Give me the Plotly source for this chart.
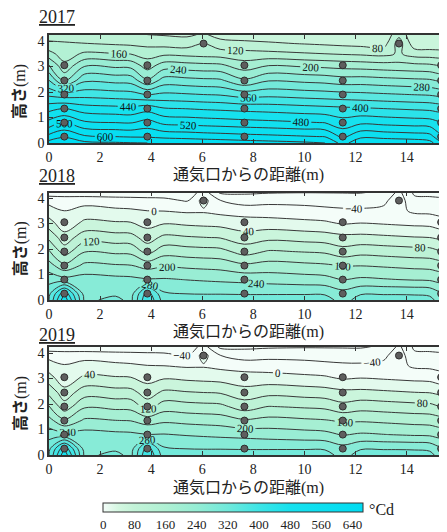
import plotly.graph_objects as go

YEARS = ["2017", "2018", "2019"]

# grid positions (m): distance from vent (x) and height (y)
X_M = [0, 0.6, 1.4, 2.6, 3.2, 3.85, 4.5, 5.4, 6.05, 6.7, 7.65, 8.6, 10.0, 10.8,
       11.5, 12.2, 13.1, 13.7, 14.3, 14.9, 15.35, 15.6]
Y_M = [0, 0.25, 0.8, 1.35, 1.9, 2.45, 3.05, 3.5, 3.9, 4.25]

# degree-day values (°Cd), one row per height
Z_2017 = [
    [658, 675, 650, 645, 642, 640, 635, 630, 627, 624, 619, 614, 607, 600, 545, 590, 592, 589, 586, 575, 530, 545],
    [613, 635, 606, 600, 597, 596, 590, 586, 582, 579, 574, 570, 563, 559, 510, 552, 547, 544, 541, 535, 491, 510],
    [533, 560, 526, 520, 517, 535, 510, 506, 502, 499, 494, 490, 483, 479, 457, 472, 467, 464, 461, 458, 444, 455],
    [466, 480, 459, 453, 450, 464, 443, 439, 435, 432, 427, 423, 416, 412, 408, 405, 400, 397, 394, 391, 384, 388],
    [391, 378, 384, 378, 375, 359, 368, 364, 360, 357, 342, 348, 341, 337, 333, 330, 325, 322, 319, 316, 309, 313],
    [321, 232, 314, 308, 305, 246, 298, 294, 290, 287, 247, 278, 271, 267, 258, 260, 255, 252, 249, 246, 234, 243],
    [241, 170, 234, 228, 225, 180, 218, 214, 210, 207, 177, 198, 191, 187, 183, 180, 175, 172, 169, 166, 156, 163],
    [174, 140, 167, 161, 158, 144, 151, 147, 143, 140, 135, 131, 124, 120, 116, 113, 108, 125, 102, 99, 97, 96],
    [128, 125, 121, 115, 112, 108, 105, 101, 120, 94, 89, 85, 78, 74, 70, 67, 62, 140, 56, 53, 51, 50],
    [100, 97, 93, 87, 84, 80, 77, 73, 85, 66, 61, 57, 52, 50, 48, 47, 46, 110, 45, 45, 44, 44],
]
Z_2018 = [
    [320, 470, 270, 292, 268, 400, 300, 300, 300, 300, 298, 298, 298, 296, 265, 296, 296, 296, 295, 292, 262, 280],
    [310, 430, 262, 272, 262, 380, 285, 279, 278, 278, 277, 277, 277, 276, 255, 277, 277, 277, 276, 272, 248, 262],
    [265, 255, 258, 252, 250, 243, 244, 239, 236, 233, 229, 224, 218, 214, 199, 207, 203, 200, 197, 195, 185, 191],
    [217, 170, 210, 204, 202, 185, 196, 191, 188, 185, 168, 176, 170, 166, 158, 159, 155, 152, 149, 147, 140, 143],
    [165, 100, 158, 152, 150, 105, 144, 139, 136, 133, 104, 124, 118, 114, 96, 107, 103, 100, 97, 95, 83, 91],
    [110, 58, 103, 97, 95, 62, 89, 84, 81, 78, 58, 69, 63, 59, 51, 52, 48, 45, 42, 40, 33, 36],
    [55, 10, 48, 42, 40, 25, 34, 29, 26, 23, 14, 14, 8, 4, -7, -3, -7, -10, -13, -15, -27, -19],
    [15, 0, 13, 7, 5, 0, -1, -6, -5, -12, -16, -21, -27, -31, -34, -34, -32, -30, -48, -50, -52, -54],
    [-12, -15, -14, -20, -22, -25, -28, -44, 15, -39, -60, -52, -52, -55, -58, -60, -48, -20, -70, -72, -74, -75],
    [-70, -72, -72, -72, -72, -72, -70, -68, -25, -90, -88, -86, -84, -84, -84, -84, -75, -32, -88, -90, -92, -93],
]
Z_2019 = [
    [320, 470, 270, 292, 268, 400, 300, 300, 300, 300, 298, 298, 298, 296, 265, 296, 296, 296, 295, 292, 262, 280],
    [310, 430, 262, 272, 262, 380, 285, 279, 278, 278, 277, 277, 277, 276, 255, 277, 277, 277, 276, 272, 248, 262],
    [263, 253, 256, 250, 248, 241, 242, 237, 234, 231, 227, 222, 216, 212, 197, 205, 201, 198, 195, 193, 183, 189],
    [214, 167, 207, 201, 199, 182, 193, 188, 185, 182, 165, 173, 167, 163, 155, 156, 152, 149, 146, 144, 137, 140],
    [162, 97, 155, 149, 147, 102, 141, 136, 133, 130, 101, 121, 115, 111, 93, 104, 100, 97, 94, 92, 80, 88],
    [109, 57, 102, 96, 94, 61, 88, 83, 80, 77, 57, 68, 62, 58, 50, 51, 47, 44, 41, 39, 32, 35],
    [55, 10, 48, 42, 40, 25, 34, 29, 26, 23, 14, 14, 8, 4, -7, -3, -7, -10, -13, -15, -27, -19],
    [17, 2, 15, 9, 6, 1, 0, -5, -4, -11, -15, -20, -26, -30, -33, -33, -31, -29, -47, -49, -51, -53],
    [-12, -15, -14, -20, -22, -25, -28, -44, 15, -39, -60, -52, -52, -55, -58, -60, -48, -20, -70, -72, -74, -75],
    [-70, -72, -72, -72, -72, -72, -70, -68, -25, -90, -88, -86, -84, -84, -84, -84, -75, -32, -88, -90, -92, -93],
]
Z_ALL = [Z_2017, Z_2018, Z_2019]

# sensor locations (m)
SENSOR_X = [0.6, 0.6, 0.6, 0.6, 0.6, 0.6,
            3.85, 3.85, 3.85, 3.85, 3.85, 3.85,
            7.65, 7.65, 7.65, 7.65, 7.65, 7.65,
            11.5, 11.5, 11.5, 11.5, 11.5, 11.5,
            15.35, 15.35, 15.35, 15.35, 15.35, 15.35,
            6.05, 13.7]
SENSOR_Y = [0.25, 0.8, 1.35, 1.9, 2.45, 3.05,
            0.25, 0.8, 1.35, 1.9, 2.45, 3.05,
            0.25, 0.8, 1.35, 1.9, 2.45, 3.05,
            0.25, 0.8, 1.35, 1.9, 2.45, 3.05,
            0.25, 0.8, 1.35, 1.9, 2.45, 3.05,
            3.9, 3.9]

X_TICKS = [0, 2, 4, 6, 8, 10, 12, 14]
Y_TICKS = [0, 1, 2, 3, 4]
CBAR_TICKS = [0, 80, 160, 240, 320, 400, 480, 560, 640]

X_TITLE = "通気口からの距離(m)"
Y_TITLE = "<b>高さ</b>(m)"
UNIT = "°Cd"

CS = [
    [0.0, "#f4fdf9"],
    [0.06, "#d4f7e1"],
    [0.12, "#c3f3d8"],
    [0.24, "#aff0d3"],
    [0.36, "#95edd4"],
    [0.48, "#70e9db"],
    [0.60, "#3de5e6"],
    [0.72, "#16e1ee"],
    [1.0, "#00dcf2"],
]
ZMAX = 668

# the page body adds an 8 px offset, so the figure is laid out 8 px smaller
OFF = 8
W, H = 447 - OFF, 532 - OFF
ML, MR, MT, MB = 49 - OFF, 0, 35 - OFF, 77
PW = W - ML - MR
PH = H - MT - MB
BOT = 455  # page pixel row of paper y=0


def py2paper(py):
    return (BOT - py) / PH


def px2paper(px):
    return (px - 49) / PW


# plot frames in page pixels (top, bottom), title rows
FRAMES = [(35, 143), (192.5, 300), (347, 455)]
YEAR_ROWS = [17.5, 176, 335]
XTITLE_ROWS = [174.5, 332.5, 488]

fig = go.Figure()
serif = "Liberation Serif, Noto Sans CJK JP"

for i, (yr, Z) in enumerate(zip(YEARS, Z_ALL)):
    sfx = "" if i == 0 else str(i + 1)
    fig.add_trace(go.Contour(
        x=X_M, y=Y_M, z=Z,
        xaxis="x" + sfx, yaxis="y" + sfx,
        colorscale=CS, zmin=0, zmax=ZMAX, zauto=False, showscale=False,
        contours=dict(start=-80, end=640, size=40, coloring="fill",
                      showlabels=True,
                      labelfont=dict(family="Liberation Serif", size=11, color="#111")),
        line=dict(color="#383838", width=1, smoothing=1.0),
        hoverinfo="skip",
    ))
    fig.add_trace(go.Scatter(
        x=SENSOR_X, y=SENSOR_Y, mode="markers",
        xaxis="x" + sfx, yaxis="y" + sfx,
        marker=dict(size=7, color="#5e5e5e", line=dict(color="#2e2e2e", width=1)),
        showlegend=False, hoverinfo="skip", cliponaxis=False,
    ))

# colour bar
fig.add_trace(go.Scatter(
    x=[-5], y=[-5], mode="markers", xaxis="x3", yaxis="y3",
    marker=dict(color=[0], cmin=0, cmax=ZMAX, colorscale=CS, showscale=True, size=1,
                colorbar=dict(orientation="h", x=px2paper(233.3), xanchor="center",
                              y=py2paper(503), yanchor="top",
                              len=260, lenmode="pixels", thickness=9,
                              xpad=0, ypad=0,
                              outlinewidth=1, outlinecolor="#333",
                              tickvals=CBAR_TICKS, ticks="", ticklen=0,
                              tickfont=dict(family="Liberation Serif", size=13, color="#222"))),
    showlegend=False, hoverinfo="skip",
))

layout = dict(
    width=W, height=H,
    margin=dict(l=ML, r=MR, t=MT, b=MB, pad=0),
    paper_bgcolor="white", plot_bgcolor="white",
    showlegend=False,
)
annotations = []
for i, (top, bot) in enumerate(FRAMES):
    sfx = "" if i == 0 else str(i + 1)
    d0, d1 = py2paper(bot), py2paper(top)
    yr_max = (bot - top) / 25.5
    layout["xaxis" + sfx] = dict(
        domain=[0, 1], range=[0, 15.58], anchor="y" + sfx,
        tickvals=X_TICKS, ticks="inside", ticklen=4, tickcolor="#333",
        showline=True, linecolor="#333", linewidth=1.5, mirror="ticks",
        showgrid=False, zeroline=False,
        tickfont=dict(family="Liberation Serif", size=14, color="#222"),
    )
    layout["yaxis" + sfx] = dict(
        domain=[d0, d1], range=[0, yr_max], anchor="x" + sfx,
        tickvals=Y_TICKS, ticks="inside", ticklen=4, tickcolor="#333",
        showline=True, linecolor="#333", linewidth=1.5, mirror=False,
        showgrid=False, zeroline=False,
        tickfont=dict(family="Liberation Serif", size=14, color="#222"),
    )
    annotations.append(dict(text="<u>" + YEARS[i] + "</u>", xref="paper", yref="paper",
                            x=px2paper(37), y=py2paper(YEAR_ROWS[i]), xanchor="left", yanchor="middle",
                            showarrow=False,
                            font=dict(family="Liberation Serif", size=18, color="#222")))
    annotations.append(dict(text=X_TITLE, xref="paper", yref="paper",
                            x=0.5, y=py2paper(XTITLE_ROWS[i]), xanchor="center", yanchor="middle",
                            showarrow=False,
                            font=dict(family=serif, size=16, color="#222")))
    annotations.append(dict(text=Y_TITLE, xref="paper", yref="paper",
                            x=px2paper(20), y=py2paper((top + bot) / 2 + 3),
                            xanchor="center", yanchor="middle", textangle=-90,
                            showarrow=False,
                            font=dict(family=serif, size=16, color="#222")))
annotations.append(dict(text=UNIT, xref="paper", yref="paper",
                        x=px2paper(367), y=py2paper(509), xanchor="left", yanchor="middle",
                        showarrow=False,
                        font=dict(family="Liberation Serif", size=16, color="#222")))
layout["annotations"] = annotations
fig.update_layout(**layout)

fig.write_html("out.html")
